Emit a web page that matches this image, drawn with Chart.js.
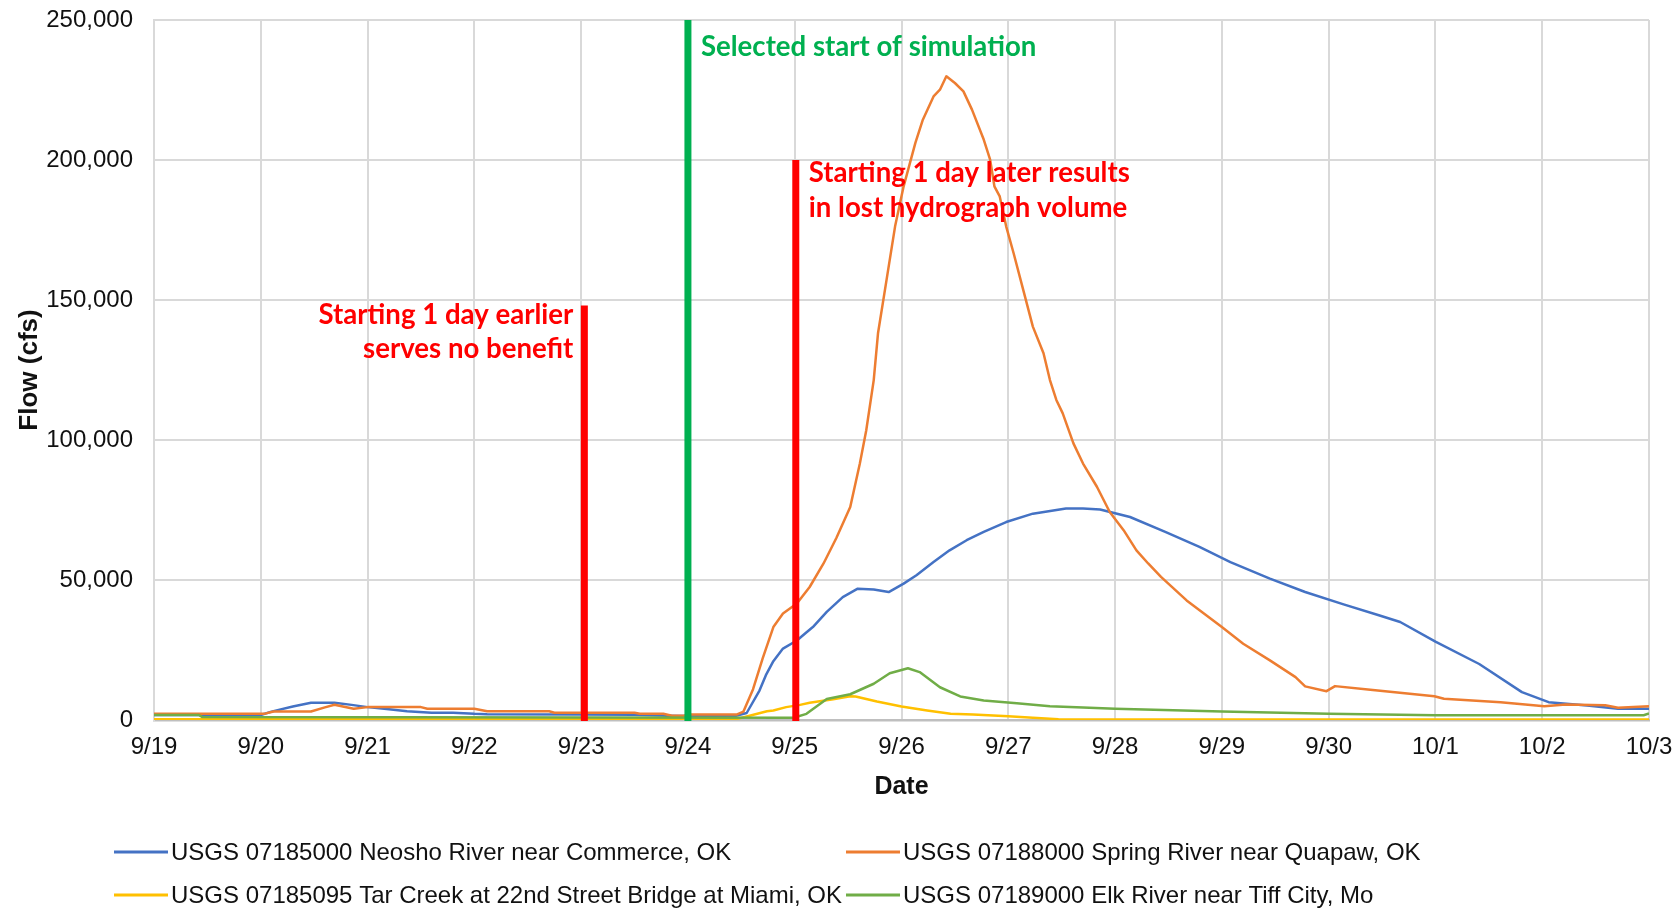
<!DOCTYPE html>
<html>
<head>
<meta charset="utf-8">
<title>Flow hydrographs</title>
<script src="https://cdn.jsdelivr.net/npm/chart.js@4.4.1/dist/chart.umd.min.js"></script>
<style>
  html, body { margin: 0; padding: 0; background: #ffffff; }
  #wrap { width: 1679px; height: 908px; position: relative; }
</style>
</head>
<body>
<div id="wrap"><canvas id="flowChart" width="1679" height="908"></canvas></div>
<script>
// Date tick labels (x value = days after 9/19)
const dateLabels = ['9/19', '9/20', '9/21', '9/22', '9/23', '9/24', '9/25', '9/26',
                    '9/27', '9/28', '9/29', '9/30', '10/1', '10/2', '10/3'];

// Flow tick values (cfs)
const flowTicks = [0, 50000, 100000, 150000, 200000, 250000];

// Series names
const seriesNames = [
  'USGS 07185000 Neosho River near Commerce, OK',
  'USGS 07188000 Spring River near Quapaw, OK',
  'USGS 07185095 Tar Creek at 22nd Street Bridge at Miami, OK',
  'USGS 07189000 Elk River near Tiff City, Mo'
];

// Neosho River near Commerce
const neoshoDays = [0, 1.0, 1.1, 1.3, 1.47, 1.69, 1.85, 2.0, 2.2, 2.37, 2.6, 2.8, 3.0, 3.12, 4.0, 4.5,
  4.8, 5.0, 5.45, 5.55, 5.67, 5.73, 5.80, 5.89, 6.02, 6.10, 6.17, 6.30, 6.45, 6.59, 6.74, 6.88,
  7.02, 7.14, 7.30, 7.45, 7.61, 7.77, 7.98, 8.23, 8.54, 8.70, 8.86, 9.14, 9.47, 9.79, 10.08,
  10.45, 10.78, 11.14, 11.47, 11.67, 12.00, 12.41, 12.81, 13.06, 13.42, 13.71, 14.0];
const neoshoFlow = [1800, 1800, 3000, 4800, 6150, 6150, 5400, 4600, 3800, 3150, 2570, 2570, 2200, 2080, 2000, 1900,
  1500, 1400, 1500, 2500, 10500, 16000, 21000, 25500, 28400, 31000, 33200, 38600, 43900, 46900, 46600, 45700,
  48700, 51700, 56400, 60600, 64200, 67200, 70700, 73700, 75500, 75500, 75200, 72500, 67200, 61800, 56400,
  50500, 45700, 41300, 37400, 35000, 28000, 20000, 9940, 6370, 5190, 4000, 4000];

// Spring River near Quapaw
const springDays = [0, 1.03, 1.12, 1.47, 1.6, 1.69, 1.87, 2.0, 2.5, 2.56, 3.0, 3.12, 3.7, 3.75, 4.5, 4.55,
  4.77, 4.85, 4.96, 5.02, 5.46, 5.52, 5.61, 5.70, 5.80, 5.89, 6.02, 6.14, 6.27, 6.39, 6.52, 6.61,
  6.67, 6.74, 6.78, 6.86, 6.94, 7.02, 7.13, 7.20, 7.30, 7.36, 7.42, 7.50, 7.58, 7.66, 7.77, 7.83,
  7.87, 7.92, 7.98, 8.05, 8.14, 8.23, 8.33, 8.39, 8.45, 8.51, 8.61, 8.70, 8.83, 8.95, 9.08, 9.20,
  9.31, 9.43, 9.67, 10.0, 10.20, 10.45, 10.69, 10.78, 10.98, 11.06, 11.39, 11.99, 12.08, 12.61,
  13.02, 13.22, 13.59, 13.71, 14.0];
const springFlow = [2200, 2200, 3040, 3040, 4500, 5430, 4000, 4600, 4600, 4000, 4000, 3150, 3150, 2570, 2570, 2200,
  2200, 1500, 1500, 1970, 1970, 3000, 11000, 22000, 33200, 38000, 41600, 47500, 55900, 65000, 76100, 91600,
  103500, 121400, 138100, 157200, 176300, 190600, 206100, 214400, 222700, 225100, 229900, 227500, 224500, 218000, 207300, 200100,
  190600, 187000, 176300, 166700, 153600, 140500, 131000, 121400, 114300, 109500, 98800, 91600, 83300, 74300, 67800, 60600,
  55900, 51100, 42700, 33200, 27250, 21300, 15300, 12000, 10300, 12100, 10800, 8500, 7580, 6370,
  4940, 5540, 5300, 4350, 4940];

// Tar Creek at 22nd Street Bridge
const tarDays = [0, 5.45, 5.55, 5.74, 5.80, 5.92, 6.05, 6.14, 6.36, 6.52, 6.57, 6.77, 7.0, 7.24, 7.46, 7.67,
  8.0, 8.23, 8.47, 8.8, 14.0];
const tarFlow = [300, 300, 1250, 3150, 3400, 4600, 5400, 6150, 7400, 8500, 8400, 6600, 4800, 3400, 2200, 2000,
  1360, 800, 300, 150, 150];

// Elk River near Tiff City
const elkDays = [0, 0.42, 0.45, 5.99, 6.11, 6.30, 6.52, 6.74, 6.89, 7.06, 7.17, 7.36, 7.55, 7.77, 8.08, 8.39,
  8.70, 9.0, 10.0, 11.0, 12.0, 13.0, 13.95, 14.0];
const elkFlow = [1800, 1800, 1100, 800, 2200, 7500, 9200, 12950, 16700, 18500, 17100, 11700, 8400, 7000, 6000, 4940,
  4470, 4000, 3040, 2200, 1700, 1700, 1700, 2300];

const seriesColors = ['#4472C4', '#ED7D31', '#FFC000', '#70AD47'];

// Start-of-simulation markers: day position, top flow, colour and note text
const markerDays = [4.03, 5.0, 6.01];
const markerTops = [148000, 250000, 200000];
const markerColors = ['#FF0000', '#00B050', '#FF0000'];
const markerNotes = [
  ['Starting 1 day earlier', 'serves no benefit'],
  ['Selected start of simulation'],
  ['Starting 1 day later results', 'in lost hydrograph volume']
];

function pairs(days, flows) {
  return days.map((d, i) => ({ x: d, y: flows[i] }));
}

const seriesData = [
  pairs(neoshoDays, neoshoFlow),
  pairs(springDays, springFlow),
  pairs(tarDays, tarFlow),
  pairs(elkDays, elkFlow)
];

Chart.defaults.font.family = "'Liberation Sans', Arial, sans-serif";
Chart.defaults.color = '#111111';

// Vertical marker bars with their notes, drawn above the series
const markerPlugin = {
  id: 'simMarkers',
  afterDatasetsDraw(chart) {
    const { ctx, scales: { x, y } } = chart;
    ctx.save();
    markerDays.forEach((d, i) => {
      const px = x.getPixelForValue(d);
      const yTop = y.getPixelForValue(markerTops[i]);
      const yBot = y.getPixelForValue(0) + 1;
      ctx.strokeStyle = markerColors[i];
      ctx.lineWidth = 7;
      ctx.lineCap = 'butt';
      ctx.beginPath();
      ctx.moveTo(px, yBot);
      ctx.lineTo(px, yTop);
      ctx.stroke();

      ctx.fillStyle = markerColors[i];
      ctx.font = "bold 27.6px Lato, 'Open Sans', sans-serif";
      ctx.textBaseline = 'alphabetic';
      const lines = markerNotes[i];
      if (i === 0) {
        ctx.textAlign = 'right';
        lines.forEach((t, k) => ctx.fillText(t, px - 11, yTop + 18 + k * 34.5));
      } else if (i === 1) {
        ctx.textAlign = 'left';
        lines.forEach((t, k) => ctx.fillText(t, px + 13, yTop + 36 + k * 34.5));
      } else {
        ctx.textAlign = 'left';
        lines.forEach((t, k) => ctx.fillText(t, px + 13, yTop + 22 + k * 34.5));
      }
    });
    ctx.restore();
  }
};

// Two-column legend under the axis title
const legendPlugin = {
  id: 'gridLegend',
  afterDraw(chart) {
    const { ctx } = chart;
    const colX = [114, 846];
    const rowY = [852, 895];
    ctx.save();
    ctx.font = "24px 'Liberation Sans', Arial, sans-serif";
    ctx.textBaseline = 'middle';
    ctx.textAlign = 'left';
    chart.data.datasets.forEach((ds, i) => {
      const cx = colX[i % 2];
      const cy = rowY[Math.floor(i / 2)];
      ctx.strokeStyle = ds.borderColor;
      ctx.lineWidth = 3;
      ctx.beginPath();
      ctx.moveTo(cx, cy);
      ctx.lineTo(cx + 54, cy);
      ctx.stroke();
      ctx.fillStyle = '#111111';
      ctx.fillText(ds.label, cx + 57, cy + 1);
    });
    ctx.restore();
  }
};

new Chart(document.getElementById('flowChart'), {
  type: 'line',
  data: {
    datasets: seriesData.map((pts, i) => ({
      label: seriesNames[i],
      data: pts,
      borderColor: seriesColors[i],
      backgroundColor: seriesColors[i],
      borderWidth: 2.5,
      pointRadius: 0,
      tension: 0,
      fill: false,
      borderJoinStyle: 'round',
      order: 4 - i
    }))
  },
  options: {
    responsive: false,
    animation: false,
    devicePixelRatio: 1,
    layout: { padding: { left: 0, right: 30, top: 20, bottom: 106 } },
    plugins: {
      legend: { display: false },
      tooltip: { enabled: false }
    },
    scales: {
      x: {
        type: 'linear',
        min: 0,
        max: 14,
        afterBuildTicks: (s) => { s.ticks = dateLabels.map((_, i) => ({ value: i })); },
        afterFit: (s) => { s.height = 82; s.paddingLeft = 0; s.paddingRight = 0; },
        ticks: {
          autoSkip: false,
          maxRotation: 0,
          padding: 13,
          font: { size: 24 },
          color: '#111111',
          callback: (v) => dateLabels[v]
        },
        grid: { color: '#d9d9d9', lineWidth: 2, drawTicks: false },
        border: { color: '#bfbfbf', width: 2.5 },
        title: {
          display: true,
          text: 'Date',
          font: { size: 25, weight: 'bold' },
          color: '#111111',
          padding: { top: 0, bottom: 0 }
        }
      },
      y: {
        min: 0,
        max: 250000,
        afterBuildTicks: (s) => { s.ticks = flowTicks.map(v => ({ value: v })); },
        afterFit: (s) => { s.width = 154; s.paddingTop = 0; s.paddingBottom = 0; },
        ticks: {
          padding: 21,
          font: { size: 24 },
          color: '#111111',
          callback: (v) => v.toLocaleString('en-US')
        },
        grid: { color: '#d9d9d9', lineWidth: 2, drawTicks: false },
        border: { color: '#d9d9d9', width: 2 },
        title: {
          display: true,
          text: 'Flow (cfs)',
          font: { size: 26, weight: 'bold' },
          color: '#111111',
          padding: { top: 14, bottom: 0 }
        }
      }
    }
  },
  plugins: [markerPlugin, legendPlugin]
});
</script>
</body>
</html>
